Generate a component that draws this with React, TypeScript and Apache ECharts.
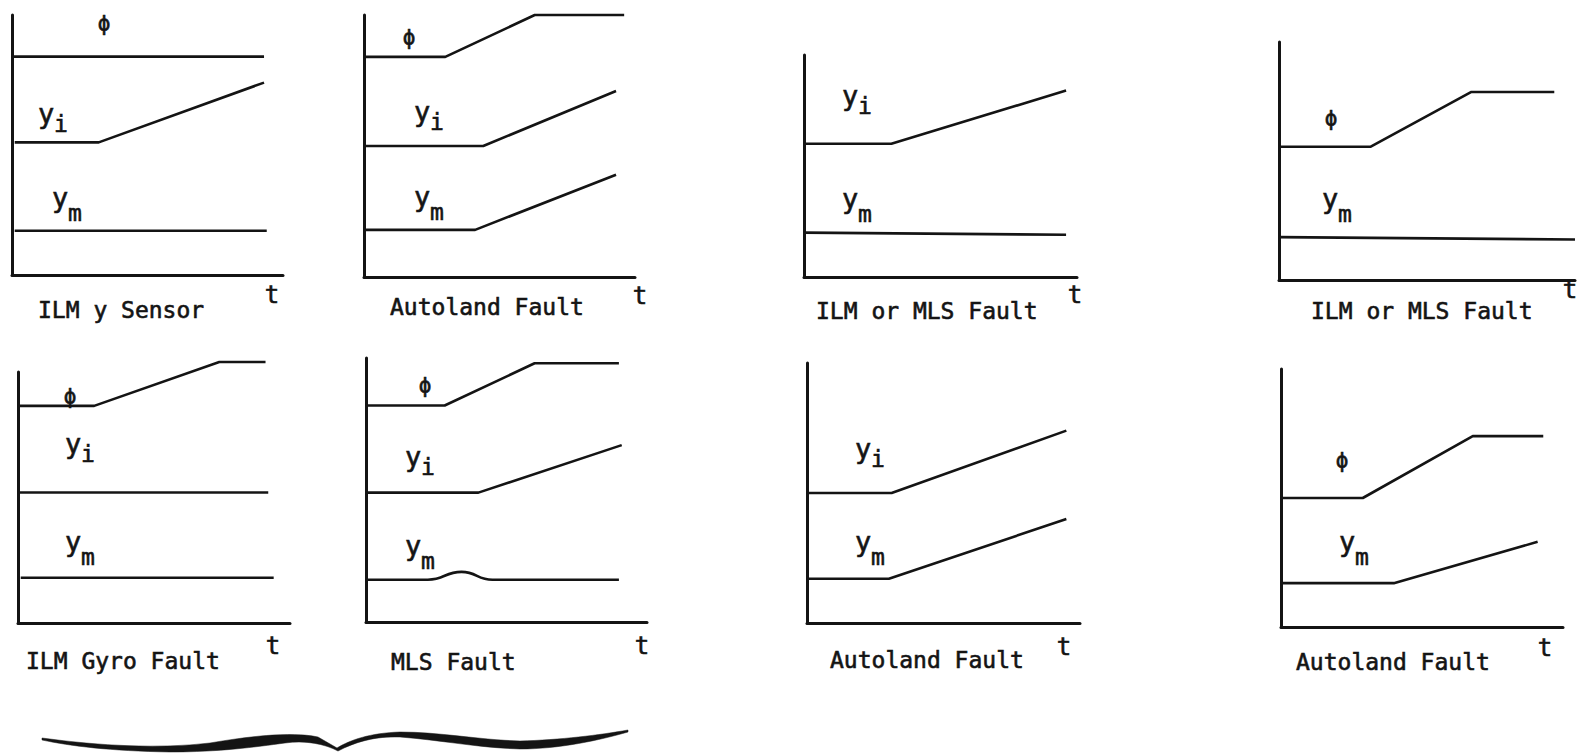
import React, { useEffect, useRef } from "react";
import * as echarts from "echarts";

// ---- signal traces (t on x, 0..100; signal level on y, 0..100) ----
const captions = [
  "ILM y Sensor",
  "Autoland Fault",
  "ILM or MLS Fault",
  "ILM or MLS Fault",
  "ILM Gyro Fault",
  "MLS Fault",
  "Autoland Fault",
  "Autoland Fault",
];

const phi1 = [[0, 84], [93, 84]];
const yi1 = [[1, 51], [32, 51], [93, 74]];
const ym1 = [[1, 17], [94, 17]];

const phi2 = [[0, 84], [30, 84], [63, 100], [96, 100]];
const yi2 = [[0, 50], [44, 50], [93, 71]];
const ym2 = [[0, 18], [41, 18], [93, 39]];

const yi3 = [[0, 60], [32, 60], [96, 84]];
const ym3 = [[0, 20], [96, 19]];

const phi4 = [[0, 56], [31, 56], [65, 79], [93, 79]];
const ym4 = [[0, 18], [100, 17]];

const phi5 = [[0, 86.5], [28, 86.5], [74, 104], [91, 104]];
const yi5 = [[0, 52], [92, 52]];
const ym5 = [[1, 18], [94, 18]];

const phi6 = [[0, 82], [28, 82], [60, 98], [90, 98]];
const yi6 = [[0, 49], [40, 49], [91, 67]];
const ym6 = [[0, 16], [22, 16], [34, 19], [45, 16], [90, 16]];

const yi7 = [[0, 50], [31, 50], [95, 74]];
const ym7 = [[0, 17], [30, 17], [95, 40]];

const phi8 = [[0, 50], [29, 50], [68, 74], [93, 74]];
const ym8 = [[0, 17], [40, 17], [91, 33]];

const panelTraces: { data: number[][]; smooth?: boolean }[][] = [
  [{ data: phi1 }, { data: yi1 }, { data: ym1 }],
  [{ data: phi2 }, { data: yi2 }, { data: ym2 }],
  [{ data: yi3 }, { data: ym3 }],
  [{ data: phi4 }, { data: ym4 }],
  [{ data: phi5 }, { data: yi5 }, { data: ym5 }],
  [{ data: phi6 }, { data: yi6 }, { data: ym6, smooth: true }],
  [{ data: yi7 }, { data: ym7 }],
  [{ data: phi8 }, { data: ym8 }],
];

// ---- layout: axes boxes [left, top, width, height] ----
const frames = [
  [12, 15, 271, 260],
  [364, 15, 271, 262],
  [804, 55, 273, 222],
  [1279, 42, 296, 238],
  [18, 372, 272, 251],
  [366, 358, 281, 264],
  [807, 363, 273, 260],
  [1281, 369, 282, 258],
];

// label anchors in pixels
const phiPos = [[104, 24], [409, 38], null, [1331, 119], [70, 397], [425, 386], null, [1342, 461]];
const yiPos = [[46, 113], [422, 111], [850, 95], null, [73, 443], [413, 456], [863, 448], null];
const ymPos = [[60, 197], [422, 196], [850, 198], [1330, 198], [73, 541], [413, 545], [863, 541], [1347, 541]];
const tPos = [[272, 295], [640, 296], [1075, 295], [1570, 290], [273, 646], [642, 646], [1064, 647], [1545, 648]];
const captionPos = [[38, 310], [390, 307], [816, 311], [1311, 311], [26, 661], [391, 662], [830, 660], [1296, 662]];

const INK = "#141414";
const MONO = "'DejaVu Sans Mono', 'Liberation Mono', monospace";

// under-brace spanning the left pair of columns
const bracePath =
  "M 42 738 C 100 746 160 749 210 743 C 245 737 290 731 318 737 L 337 748 " +
  "C 350 740 370 733 400 732 C 440 732 480 740 520 741 C 560 740 600 735 628 730 " +
  "L 628 732 C 600 740 560 749 520 749 C 480 748 440 740 400 737 " +
  "C 375 736 355 742 338 751 C 325 744 305 740 285 743 " +
  "C 255 747 220 752 170 752 C 110 751 70 746 42 740 Z";

echarts.graphic.registerShape("brace", echarts.graphic.extendPath(bracePath, {}) as any);

function txt(x: number, y: number, text: string, size: number, align = "center") {
  return {
    type: "text",
    x,
    y,
    silent: true,
    style: {
      text,
      fill: INK,
      stroke: INK,
      lineWidth: 0.6,
      font: `${size}px ${MONO}`,
      align,
      verticalAlign: "middle",
    },
  };
}

export default function App() {
  const ref = useRef<HTMLDivElement>(null);

  useEffect(() => {
    if (!ref.current) return;
    const chart = echarts.init(ref.current, null, { renderer: "svg" });

    const grid: any[] = [];
    const xAxis: any[] = [];
    const yAxis: any[] = [];
    const series: any[] = [];
    const graphic: any[] = [];

    const axisBase = {
      type: "value",
      min: 0,
      max: 100,
      axisLine: { show: true, onZero: false, lineStyle: { color: INK, width: 3 } },
      axisTick: { show: false },
      axisLabel: { show: false },
      splitLine: { show: false },
    };

    frames.forEach(([left, top, width, height], i) => {
      grid.push({ left, top, width, height, containLabel: false });
      xAxis.push({ ...axisBase, gridIndex: i });
      yAxis.push({ ...axisBase, gridIndex: i });
      panelTraces[i].forEach((tr) => {
        series.push({
          type: "line",
          xAxisIndex: i,
          yAxisIndex: i,
          data: tr.data,
          symbol: "none",
          smooth: tr.smooth ? 0.5 : false,
          smoothMonotone: "x",
          clip: false,
          silent: true,
          lineStyle: { color: INK, width: 2.6 },
        });
      });

      const p = phiPos[i];
      if (p) graphic.push(txt(p[0], p[1], "\u03D5", 21));
      const yi = yiPos[i];
      if (yi) {
        graphic.push(txt(yi[0], yi[1], "y", 27));
        graphic.push(txt(yi[0] + 15, yi[1] + 11, "i", 23));
      }
      const ym = ymPos[i];
      if (ym) {
        graphic.push(txt(ym[0], ym[1], "y", 27));
        graphic.push(txt(ym[0] + 15, ym[1] + 16, "m", 23));
      }
      const tp = tPos[i];
      graphic.push(txt(tp[0], tp[1], "t", 24));
      const cp = captionPos[i];
      graphic.push(txt(cp[0], cp[1], captions[i], 23, "left"));
    });

    graphic.push({ type: "brace", x: 0, y: 0, silent: true, style: { fill: INK, stroke: INK, lineWidth: 0.5 } });

    chart.setOption({
      animation: false,
      backgroundColor: "#ffffff",
      grid,
      xAxis,
      yAxis,
      series,
      graphic,
    });

    return () => chart.dispose();
  }, []);

  return (
    <div
      ref={ref}
      style={{ position: "fixed", left: 0, top: 0, width: 1579, height: 754, background: "#fff" }}
    />
  );
}
